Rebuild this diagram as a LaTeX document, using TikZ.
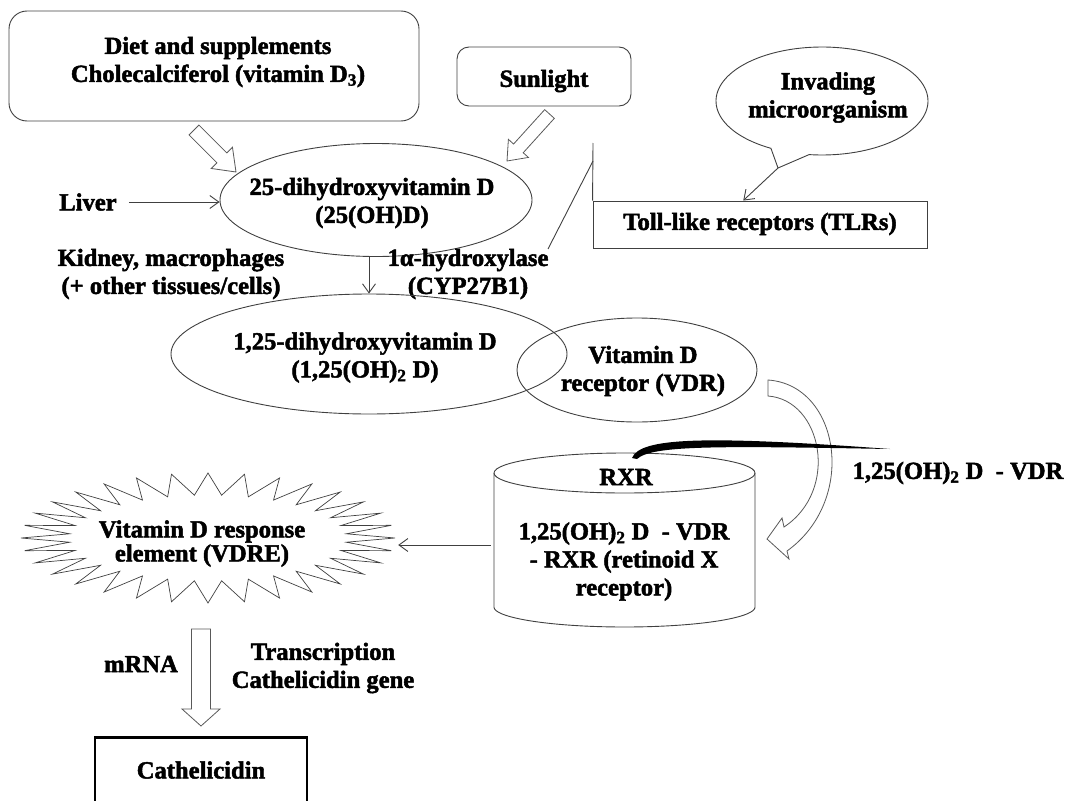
\documentclass[tikz,border=0pt]{standalone}
\usepackage{fontspec}
\setmainfont{Liberation Serif}[BoldFeatures={FakeBold=2}]
\usetikzlibrary{shapes.geometric,arrows.meta,calc}
\begin{document}
\begin{tikzpicture}[x=1pt,y=-1pt,
  txt/.style={font=\bfseries\fontsize{24.6}{28}\selectfont, align=center, inner sep=0pt},
  ln/.style={draw=black!75, line width=0.9pt},
  rbox/.style={ln, rectangle, rounded corners=18pt, inner sep=0pt},
  sbox/.style={ln, rectangle, inner sep=0pt},
  ell/.style={ln, ellipse, inner sep=0pt},
  hollow/.style={draw=black!65, line width=0.8pt, fill=white, line join=miter},
  thinarrow/.style={draw=black!75, line width=0.9pt, -{Straight Barb[length=9pt,width=13pt]}},
  ghost/.style={inner sep=0pt},
]
\useasboundingbox (0,0) rectangle (1070,800);
\clip (0,0) rectangle (1070,800);

% top boxes
\node[rbox, minimum width=410pt, minimum height=110pt] (diet) at (214,66) {};
\node[txt] (dietT) at (218,62) {Diet and supplements\\Cholecalciferol (vitamin D\textsubscript{3})};
\node[rbox, rounded corners=12pt, minimum width=174pt, minimum height=59pt] (sun) at (544,76.5) {};
\node[txt] (sunT) at (544,81) {Sunlight};

% hollow arrows
\draw[hollow] (189.05,134.95) -- (216.9,162.8) -- (211.25,168.47) -- (236,172) -- (232.47,147.25) -- (226.8,152.9) -- (198.95,125.05) -- cycle;
\draw[hollow] (544.68,109.64) -- (513.58,144.03) -- (508.39,139.34) -- (507,161) -- (528.41,157.44) -- (523.22,152.75) -- (554.32,118.36) -- cycle;

% 25(OH)D ellipse
\node[ell, minimum width=312pt, minimum height=113pt] (e25) at (376,200) {};
\node[txt] (e25T) at (372,203) {25-dihydroxyvitamin D\\(25(OH)D)};

% liver
\node[txt] (liver) at (88,202) {Liver};
\draw[thinarrow] ([xshift=12pt]liver.east) -- (e25.west |- liver.east);

% invading microorganism bubble
\coordinate (bubTip) at (778,168);
\draw[ln, fill=white] plot[domain=118.8:457, samples=120, variable=\t] ({822+106*cos(\t)}, {101+54*sin(\t)}) -- (bubTip) -- cycle;
\node[txt] (inv) at (828,97.5) {Invading\\microorganism};

% TLR box
\node[sbox, minimum width=334pt, minimum height=47pt] (tlr) at (760,224.5) {};
\node[txt] (tlrT) at (760,224) {Toll-like receptors (TLRs)};
\draw[thinarrow] (bubTip) -- ($(tlr.north west)!0.45!(tlr.north east)$);

% callout line for hydroxylase
\coordinate (calA) at (593,143);
\coordinate (calB) at (593,161);
\coordinate (calC) at (548,249);
\draw[ln] (calA) -- (tlr.north west);
\draw[ln] (calB) -- (calC);

% labels
\node[txt] (kid) at (171,274) {Kidney, macrophages\\(+ other tissues/cells)};
\node[txt] (hyd) at (468,274) {1α-hydroxylase\\(CYP27B1)};

% 1,25 ellipse and VDR
\node[ell, minimum width=396pt, minimum height=120pt] (e125) at (369,354) {};
\node[txt] (e125T) at (365,357.5) {1,25-dihydroxyvitamin D\\(1,25(OH)\textsubscript{2} D)};
\draw[thinarrow] (e125.north |- e25.south) -- (e125.north);
\node[ell, minimum width=240pt, minimum height=104pt] (vdr) at (637,370) {};
\node[txt] (vdrT) at (643,371) {Vitamin D\\receptor (VDR)};

% curved block arrow
\draw[hollow] (768,380) .. controls (840,385) and (858,500) .. (787,551) -- (789,559) -- (767,539) -- (782,518) -- (784,527) .. controls (840,490) and (822,400) .. (768,396) -- cycle;

% cylinder
\node[ghost, minimum width=261pt, minimum height=170pt] (cyl) at (624.5,545) {};
\draw[ln] (494,473) -- (494,607) -- plot[domain=180:0, samples=80, variable=\t] ({624.5+130.5*cos(\t)}, {607+20*sin(\t)}) -- (755,473);
\draw[ln] (624.5,473) ellipse [x radius=130.5, y radius=20];
\node[txt] (rxr) at (626,477) {RXR};
\node[txt] (cylT) at (624,561.5) {1,25(OH)\textsubscript{2} D~~- VDR\\- RXR (retinoid X\\receptor)};

% swoosh
\fill[black] (632,458) .. controls (640,438) and (700,435) .. (890,449) .. controls (720,446) and (652,445) .. (637,459) -- cycle;
\node[txt] (cplx) at (958,473) {1,25(OH)\textsubscript{2} D~~- VDR};

% starburst VDRE
\node[ghost, minimum width=374pt, minimum height=130pt] (vdre) at (208,538) {};
\draw[ln, line width=0.7pt] plot[samples at={0,...,63}, variable=\k] ({208+ifthenelse(mod(\k,2)==0,187,139)*cos(\k*5.625-90)}, {538+ifthenelse(mod(\k,2)==0,65,43)*sin(\k*5.625-90)}) -- cycle;
\node[txt, font=\bfseries\fontsize{24.6}{24}\selectfont] (vdreT) at (202,543.5) {Vitamin D response\\element (VDRE)};
\draw[thinarrow] ([xshift=-3pt]cyl.west) -- ([xshift=3pt]vdre.east |- cyl.west);

% transcription arrow
\draw[hollow] (191.5,629) -- (191.5,709) -- (182,709) -- (201,726) -- (220,709) -- (210.5,709) -- (210.5,629) -- cycle;
\node[txt] (mrna) at (141,664) {mRNA};
\node[txt] (trans) at (323,668) {Transcription\\Cathelicidin gene};

% cathelicidin box
\node[draw=black, line width=2.6pt, minimum width=212pt, minimum height=94pt, anchor=north, inner sep=0pt] (cath) at (201,736) {};
\node[txt] (cathT) at (201,770) {Cathelicidin};
\end{tikzpicture}
\end{document}
